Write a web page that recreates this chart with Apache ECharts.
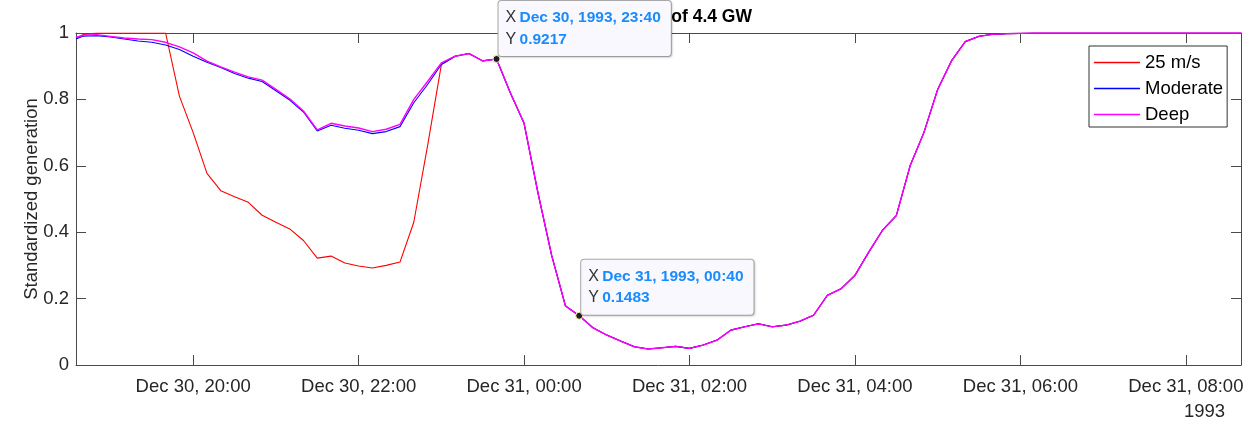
<!DOCTYPE html>
<html>
<head>
<meta charset="utf-8">
<script src="https://cdn.jsdelivr.net/npm/echarts@6/dist/echarts.min.js"></script>
<style>
html,body{margin:0;padding:0;background:#fff;}
#c{width:1256px;height:425px;}
</style>
</head>
<body>
<div id="c"></div>
<script>
// ---- data ----
const startTime = '1993-12-30 18:35';      // first sample (left edge)
const gridStart = '1993-12-30 18:40';      // following samples every 10 minutes
const stepMinutes = 10;

// Deep: all samples 18:35, 18:40 ... 08:40
const deepValues = [
  0.987,
  0.993, 0.995, 0.990, 0.985, 0.982, 0.980, 0.972, 0.958, 0.940, 0.915,
  0.898, 0.882, 0.868, 0.858, 0.830, 0.802, 0.765, 0.708, 0.728, 0.720,
  0.714, 0.703, 0.710, 0.725, 0.800, 0.854, 0.910, 0.930, 0.938, 0.916,
  0.9217, 0.820, 0.728, 0.520, 0.330, 0.178, 0.1483, 0.112, 0.090, 0.072,
  0.055, 0.048, 0.052, 0.056, 0.050, 0.060, 0.075, 0.105, 0.115, 0.124,
  0.115, 0.120, 0.132, 0.150, 0.210, 0.230, 0.270, 0.340, 0.406, 0.450,
  0.600, 0.700, 0.830, 0.916, 0.974, 0.990, 0.996, 0.998, 0.999, 1.000,
  1.000, 1.000, 1.000, 1.000, 1.000, 1.000, 1.000, 1.000, 1.000, 1.000,
  1.000, 1.000, 1.000, 1.000, 1.000
];
// Moderate: samples 18:35 ... 23:00 (after that it coincides with Deep)
const moderateHead = [
  0.982,
  0.990, 0.992, 0.988, 0.982, 0.976, 0.972, 0.964, 0.950, 0.930, 0.912,
  0.896, 0.878, 0.864, 0.854, 0.826, 0.798, 0.762, 0.705, 0.722, 0.713,
  0.707, 0.697, 0.703, 0.718, 0.790, 0.845, 0.905
];
// 25 m/s: samples 18:35 ... 23:00 (after that it coincides with Deep)
const redHead = [
  0.985,
  0.995, 1.000, 1.000, 1.000, 1.000, 1.000, 1.000, 0.810, 0.700, 0.577,
  0.525, 0.507, 0.490, 0.451, 0.430, 0.410, 0.375, 0.322, 0.328, 0.307,
  0.298, 0.292, 0.300, 0.310, 0.430, 0.660, 0.905
];
const seriesNames = ['25 m/s', 'Moderate', 'Deep'];
const seriesColors = ['#ff0000', '#0000ff', '#ff00ff'];
const tickTimes = ['1993-12-30 20:00', '1993-12-30 22:00', '1993-12-31 00:00', '1993-12-31 02:00',
                   '1993-12-31 04:00', '1993-12-31 06:00', '1993-12-31 08:00'];
const xMin = '1993-12-30 18:35';
const xMax = '1993-12-31 08:40';
const yTicks = [0, 0.2, 0.4, 0.6, 0.8, 1];
const datatips = [
  {time: '1993-12-30 23:40', value: 0.9217, label: 'Dec 30, 1993, 23:40', offset: [6, -54]},
  {time: '1993-12-31 00:40', value: 0.1483, label: 'Dec 31, 1993, 00:40', offset: [6, -52]}
];
const titleText = 'Wind power of 4.4 GW';
const yearLabel = '1993';
const yName = 'Standardized generation';
const monthNames = ['Jan','Feb','Mar','Apr','May','Jun','Jul','Aug','Sep','Oct','Nov','Dec'];

// ---- helpers ----
function parseT(s) {
  const [d, t] = s.split(' ');
  const [Y, M, D] = d.split('-').map(Number);
  const [h, m] = t.split(':').map(Number);
  return Date.UTC(Y, M - 1, D, h, m);
}
const t0 = parseT(startTime);
const g0 = parseT(gridStart);
const times = deepValues.map((_, i) => i === 0 ? t0 : g0 + (i - 1) * stepMinutes * 60000);
const moderateValues = moderateHead.concat(deepValues.slice(moderateHead.length));
const redValues = redHead.concat(deepValues.slice(redHead.length));
const allValues = [redValues, moderateValues, deepValues];
const lineWidths = [1.1, 1.1, 1.4];
const pad = n => (n < 10 ? '0' : '') + n;
const FONT = '"Liberation Sans", Arial, Helvetica, sans-serif';
const AX = '#4a4a4a';
const TXT = '#262626';
const fmtTime = v => { const d = new Date(v); return monthNames[d.getUTCMonth()] + ' ' + d.getUTCDate() + ', ' + pad(d.getUTCHours()) + ':' + pad(d.getUTCMinutes()); };

const chart = echarts.init(document.getElementById('c'), null, {renderer: 'canvas'});
const tickVals = tickTimes.map(parseT);

const series = seriesNames.map((name, si) => ({
  name: name,
  type: 'line',
  data: times.map((t, i) => [t, allValues[si][i]]),
  showSymbol: false,
  symbol: 'none',
  lineStyle: {color: seriesColors[si], width: lineWidths[si]},
  itemStyle: {color: seriesColors[si]},
  emphasis: {disabled: true},
  animation: false,
  z: 3
}));
series[2].markPoint = {
  animation: false,
  symbol: 'circle',
  symbolSize: 7,
  itemStyle: {color: '#1e1e1e', borderColor: '#f6f3b0', borderWidth: 1},
  data: datatips.map(d => ({
    coord: [parseT(d.time), d.value],
    label: {
      show: true,
      position: d.offset,
      align: 'left',
      verticalAlign: 'top',
      formatter: '{x|X} {v|' + d.label + '}\n{x|Y} {v|' + d.value + '}',
      backgroundColor: '#f8f8fe',
      borderColor: '#a9a9a9',
      borderWidth: 1,
      borderRadius: 3,
      padding: [6, 10, 6, 7],
      shadowColor: 'rgba(0,0,0,0.12)',
      shadowBlur: 2,
      shadowOffsetX: 1,
      shadowOffsetY: 1,
      lineHeight: 21.5,
      rich: {
        x: {color: '#333', fontSize: 16, fontFamily: FONT, lineHeight: 21.5},
        v: {color: '#1a8cff', fontSize: 15.5, fontWeight: 'bold', fontFamily: FONT, lineHeight: 21.5}
      }
    }
  }))
};

const option = {
  backgroundColor: '#ffffff',
  animation: false,
  textStyle: {fontFamily: FONT},
  title: {
    text: titleText,
    right: 499,
    top: 3,
    z: 0,
    textStyle: {fontFamily: FONT, fontSize: 17.5, fontWeight: 'bold', color: '#000'}
  },
  grid: {left: 76, right: 15, top: 33, bottom: 60, outerBoundsMode: 'none', containLabel: false},
  legend: {
    orient: 'vertical',
    left: 1089,
    top: 46,
    padding: [7, 4, 3, 5],
    itemGap: 7,
    itemWidth: 46,
    itemHeight: 1.5,
    itemTextGap: 4,
    icon: 'rect',
    backgroundColor: '#ffffff',
    borderColor: '#333',
    borderWidth: 1,
    borderRadius: 0,
    selectedMode: false,
    textStyle: {fontFamily: FONT, fontSize: 18.5, color: '#000', lineHeight: 18},
    data: seriesNames
  },
  xAxis: [{
    type: 'value',
    min: parseT(xMin),
    max: parseT(xMax),
    position: 'bottom',
    axisLine: {show: true, onZero: false, lineStyle: {color: AX, width: 1}},
    axisTick: {show: true, inside: true, length: 10, lineStyle: {color: AX}, customValues: tickVals},
    axisLabel: {
      show: true, margin: 12, color: TXT, fontSize: 18.5, fontFamily: FONT,
      customValues: tickVals,
      formatter: fmtTime
    },
    splitLine: {show: false}
  }, {
    type: 'value',
    min: parseT(xMin),
    max: parseT(xMax),
    position: 'top',
    axisLine: {show: true, onZero: false, lineStyle: {color: AX, width: 1}},
    axisTick: {show: true, inside: true, length: 10, lineStyle: {color: AX}, customValues: tickVals},
    axisLabel: {show: false},
    splitLine: {show: false}
  }],
  yAxis: [{
    type: 'value',
    min: 0, max: 1, interval: 0.2,
    position: 'left',
    name: yName,
    nameLocation: 'middle',
    nameGap: 35,
    nameMoveOverlap: false,
    nameTextStyle: {fontFamily: FONT, fontSize: 18.5, color: TXT},
    axisLine: {show: true, onZero: false, lineStyle: {color: AX, width: 1}},
    axisTick: {show: true, inside: true, length: 10, lineStyle: {color: AX}, customValues: yTicks},
    axisLabel: {show: true, margin: 7, color: TXT, fontSize: 18.5, fontFamily: FONT, customValues: yTicks,
      formatter: v => String(Math.round(v * 10) / 10)},
    splitLine: {show: false}
  }, {
    type: 'value',
    min: 0, max: 1, interval: 0.2,
    position: 'right',
    axisLine: {show: true, onZero: false, lineStyle: {color: AX, width: 1}},
    axisTick: {show: true, inside: true, length: 10, lineStyle: {color: AX}, customValues: yTicks},
    axisLabel: {show: false},
    splitLine: {show: false}
  }],
  graphic: [{
    type: 'text',
    left: 1184,
    top: 402,
    style: {text: yearLabel, font: '18.5px ' + FONT, fill: TXT}
  }],
  series: series
};
chart.setOption(option);
</script>
</body>
</html>
